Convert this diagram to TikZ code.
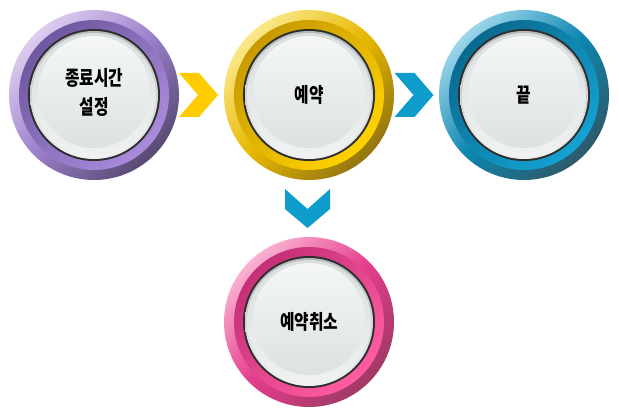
\documentclass[tikz,border=0pt]{standalone}
\usepackage{fontspec}
\usetikzlibrary{calc}
\newfontfamily\kr{Noto Sans CJK KR}
\definecolor{puL}{HTML}{DCCDEF}\definecolor{puM}{HTML}{9B7FCB}\definecolor{puD}{HTML}{574A72}
\definecolor{puA}{HTML}{6F58A0}\definecolor{puB}{HTML}{AA8BDC}
\definecolor{yeL}{HTML}{FBE88A}\definecolor{yeM}{HTML}{E6B700}\definecolor{yeD}{HTML}{947510}
\definecolor{yeA}{HTML}{C89A00}\definecolor{yeB}{HTML}{FFD200}
\definecolor{blL}{HTML}{9DD6EA}\definecolor{blM}{HTML}{0D86B0}\definecolor{blD}{HTML}{2D5A6A}
\definecolor{blA}{HTML}{0A6A90}\definecolor{blB}{HTML}{14A2D2}
\definecolor{piL}{HTML}{F9B2D2}\definecolor{piM}{HTML}{E53D8C}\definecolor{piD}{HTML}{A03A66}
\definecolor{piA}{HTML}{C42F76}\definecolor{piB}{HTML}{FF5CA2}
\definecolor{bordc}{HTML}{2E2E2E}
\definecolor{rimT}{HTML}{B4B9B9}\definecolor{rimB}{HTML}{F0F2F2}
\definecolor{faceT}{HTML}{F5F7F7}\definecolor{faceB}{HTML}{DCE1E1}
\definecolor{chevY}{HTML}{FFCC00}\definecolor{chevB}{HTML}{0E9CCC}
\tikzset{
  ring/.style={circle, minimum size=#1, inner sep=0pt, outer sep=0pt},
  btntext/.style={font=\kr\bfseries\fontsize{15}{22}\selectfont, text=black, inner sep=0pt},
}
\newcommand\tall[1]{\scalebox{1.05}[1.35]{#1}}
\newcommand\mkbtn[4]{%
  \node[ring=170pt, top color=#3L, bottom color=#3D, middle color=#3M, shading angle=45] (#1) at (#2) {};
  \node[ring=150pt, top color=#3A, bottom color=#3B, shading angle=45] at (#1) {};
  \node[ring=132pt, fill=bordc] at (#1) {};
  \node[ring=128pt, top color=rimT, bottom color=rimB] at (#1) {};
  \node[ring=124pt, top color=faceT!60!rimT, bottom color=rimB] at (#1) {};
  \node[ring=112pt, top color=faceT, bottom color=faceB] at ($(#1)+(0,3)$) {};
  \node[btntext] (#1t) at (#1) {#4};
}
\begin{document}
\begin{tikzpicture}[x=1pt,y=1pt]
  \useasboundingbox (0,0) rectangle (619,413);
  \mkbtn{p1}{94,318}{pu}{\begin{tabular}{@{}c@{}}\tall{종료시간}\\[5pt]\tall{설정}\end{tabular}}
  \mkbtn{p2}{309,318}{ye}{\tall{예약}}
  \mkbtn{p3}{524,318}{bl}{\tall{끝}}
  \mkbtn{p4}{309,91}{pi}{\tall{예약취소}}
  \fill[chevY, shift={($(p1)!0.5!(p2)+(-3,0)$)}]
    (-19.5,22) -- (0.5,22) -- (19.5,0) -- (0.5,-22) -- (-19.5,-22) -- (-0.5,0) -- cycle;
  \fill[chevB, shift={($(p2)!0.5!(p3)+(-2.5,0)$)}]
    (-19.5,22) -- (0.5,22) -- (19.5,0) -- (0.5,-22) -- (-19.5,-22) -- (-0.5,0) -- cycle;
  \fill[chevB, shift={($(p2)!0.5!(p4)+(-1.5,0)$)}]
    (-22.5,19.5) -- (0,-0.5) -- (22.5,19.5) -- (22.5,-0.5) -- (0,-19.5) -- (-22.5,-0.5) -- cycle;
\end{tikzpicture}
\end{document}
